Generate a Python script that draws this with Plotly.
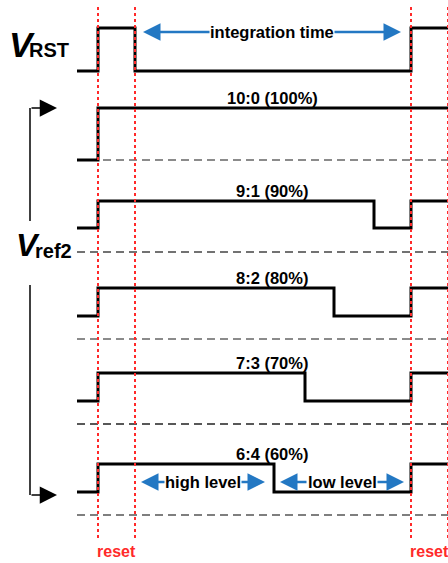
import plotly.graph_objects as go

# ---- data (time axis in arbitrary units, level axis downward) ----
reset_start = [98, 411]
reset_end = [135, 448]
t_begin = 77
t_end = 448

vrst_high = 28
vrst_low = 71

ratio_labels = ["10:0 (100%)", "9:1 (90%)", "8:2 (80%)", "7:3 (70%)", "6:4 (60%)"]
fall_times = [None, 374, 334, 305, 274]
high_levels = [108, 201, 288, 373, 464]
low_levels = [160, 228, 316, 401, 492]
ref_levels = [160, 252, 339, 424, 515]
ref_colors = ["#666666", "#444444", "#666666", "#222222", "#555555"]

W, H = 448, 563

fig = go.Figure()

# reset markers (red dotted)
for t in reset_start + reset_end:
    fig.add_shape(type="line", x0=t, x1=t, y0=7, y1=539,
                  line=dict(color="#ff2a2a", width=2, dash="3px,3px"), layer="above")

# reference dashed lines
for lvl, c in zip(ref_levels, ref_colors):
    fig.add_trace(go.Scatter(x=[t_begin, t_end], y=[lvl, lvl], mode="lines",
                             line=dict(color=c, width=1.6, dash="8px,5px"),
                             hoverinfo="skip", showlegend=False))

# V_RST waveform
fig.add_trace(go.Scatter(
    x=[t_begin, reset_start[0], reset_end[0], reset_start[1], t_end],
    y=[vrst_low, vrst_high, vrst_low, vrst_high, vrst_high],
    mode="lines", line=dict(color="black", width=3, shape="hv"),
    hoverinfo="skip", showlegend=False))

# V_ref2 waveforms
for tf, hi, lo in zip(fall_times, high_levels, low_levels):
    if tf is None:
        xs = [t_begin, reset_start[0], t_end]
        ys = [lo, hi, hi]
    else:
        xs = [t_begin, reset_start[0], tf, reset_start[1], t_end]
        ys = [lo, hi, lo, hi, hi]
    fig.add_trace(go.Scatter(x=xs, y=ys, mode="lines",
                             line=dict(color="black", width=3, shape="hv"),
                             hoverinfo="skip", showlegend=False))

FONT = "Liberation Sans, Arial, sans-serif"

# ratio labels
for lab, hi in zip(ratio_labels, high_levels):
    fig.add_annotation(x=272, y=hi - 10, text="<b>" + lab + "</b>", showarrow=False,
                       font=dict(family=FONT, size=16.5, color="black"),
                       xanchor="center", yanchor="middle")

# bracket for V_ref2
bx = 30
fig.add_shape(type="line", x0=bx, x1=bx, y0=high_levels[0], y1=221,
              line=dict(color="black", width=1.5))
fig.add_shape(type="line", x0=bx, x1=bx, y0=285, y1=495,
              line=dict(color="black", width=1.5))
for yy in [high_levels[0], 495]:
    fig.add_annotation(x=57, y=yy, ax=bx, ay=yy, axref="x", ayref="y",
                       xref="x", yref="y", text="", showarrow=True,
                       arrowhead=2, arrowsize=2.3, arrowwidth=1.5, arrowcolor="black",
                       standoff=0, startstandoff=0)

# blue span arrows
BLUE = "#2378c3"
spans = [
    ("integration time", 272, 32, 211, 333, 143, 401),
    ("high level", 203, 482, 166, 240, 141, 265),
    ("low level", 342, 482, 308, 376, 280, 404),
]
for txt, cx, yy, tl, tr, al, ar in spans:
    fig.add_annotation(x=cx, y=yy, text="<b>" + txt + "</b>", showarrow=False,
                       font=dict(family=FONT, size=16.5, color="black"),
                       xanchor="center", yanchor="middle")
    for tip, tail in [(al, tl), (ar, tr)]:
        fig.add_annotation(x=tip, y=yy, ax=tail, ay=yy, axref="x", ayref="y",
                           xref="x", yref="y", text="", showarrow=True,
                           arrowhead=2, arrowsize=1.4, arrowwidth=2.5, arrowcolor=BLUE,
                           standoff=0, startstandoff=0)

# reset labels
for s, e in zip(reset_start, reset_end):
    fig.add_annotation(x=(s + e) / 2, y=551, text="<b>reset</b>", showarrow=False,
                       font=dict(family=FONT, size=16, color="#ff2a2a"),
                       xanchor="center", yanchor="middle")

# signal names
fig.add_annotation(x=22, y=44, text="<b><i>V</i></b>", showarrow=False,
                   font=dict(family=FONT, size=35, color="black"),
                   xanchor="center", yanchor="middle")
fig.add_annotation(x=49, y=50, text="<b>RST</b>", showarrow=False,
                   font=dict(family=FONT, size=20, color="black"),
                   xanchor="center", yanchor="middle")
fig.add_annotation(x=28, y=245, text="<b><i>V</i></b>", showarrow=False,
                   font=dict(family=FONT, size=32, color="black"),
                   xanchor="center", yanchor="middle")
fig.add_annotation(x=53, y=251, text="<b>ref2</b>", showarrow=False,
                   font=dict(family=FONT, size=20, color="black"),
                   xanchor="center", yanchor="middle")

fig.update_layout(
    width=W, height=H,
    margin=dict(l=0, r=0, t=0, b=0),
    paper_bgcolor="white", plot_bgcolor="white",
    xaxis=dict(range=[0, W], visible=False, fixedrange=True),
    yaxis=dict(range=[H, 0], visible=False, fixedrange=True),
    showlegend=False,
)

fig.write_html(
    "out.html",
    config={"displayModeBar": False},
    post_script=(
        "document.documentElement.style.margin='0';"
        "document.body.style.margin='0';"
        "document.documentElement.style.overflow='hidden';"
        "document.body.style.overflow='hidden';"
    ),
)
